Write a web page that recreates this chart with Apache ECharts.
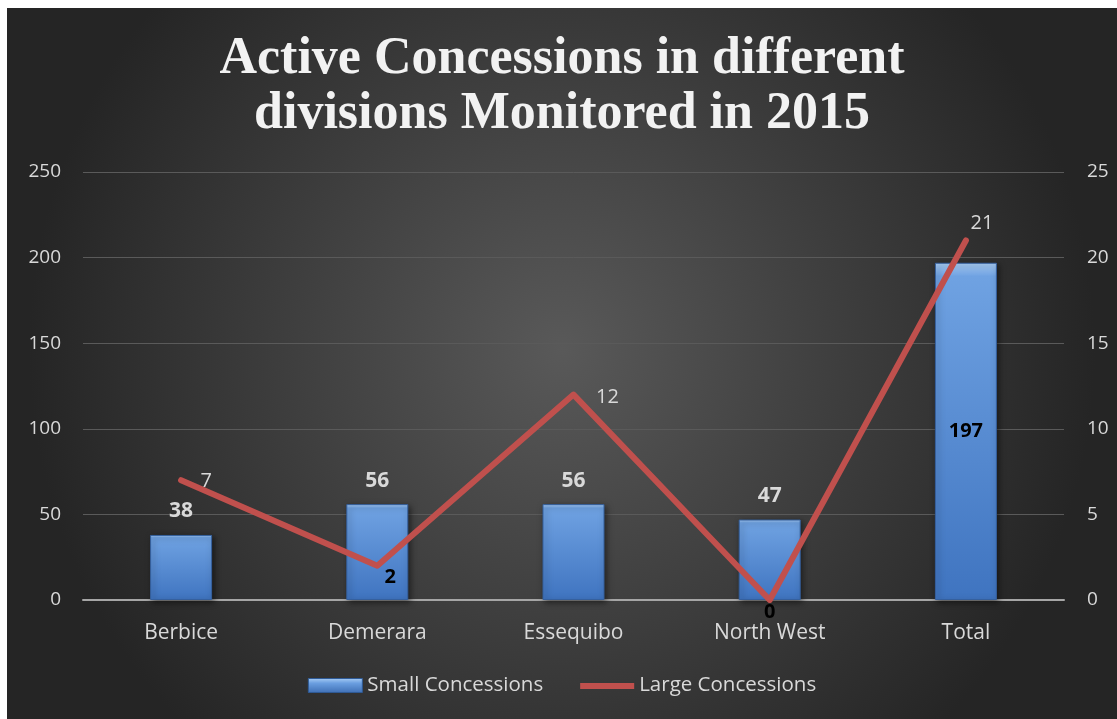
<!DOCTYPE html>
<html><head><meta charset="utf-8">
<script src="https://cdn.jsdelivr.net/npm/echarts@6/dist/echarts.min.js"></script>
<style>html,body{margin:0;padding:0;background:#fff;width:1117px;height:719px;overflow:hidden}
#c{position:absolute;left:7px;top:8px;width:1110px;height:711px}</style>
</head><body><div id="c"></div>
<script>
const categories = ['Berbice','Demerara','Essequibo','North West','Total'];
const smallConcessions = [38,56,56,47,197];
const largeConcessions = [7,2,12,0,21];
const leftTicks = [0,50,100,150,200,250];
const rightTicks = [0,5,10,15,20,25];

const chart = echarts.init(document.getElementById('c'));
const font = '"Open Sans", "Noto Sans", sans-serif';
const barData = smallConcessions.map((v,i)=> i===4 ? {
  value:v, label:{show:true, position:'inside', color:'#000', fontWeight:'bold', fontSize:20}
} : {value:v});
const lineLabelCfg = [
  {position:'right', color:'#d9d9d9', fontWeight:'normal', offset:[14,1]},
  {position:'bottom', color:'#000', fontWeight:'bold', offset:[13,-4]},
  {position:'right', color:'#d9d9d9', fontWeight:'normal', offset:[17,3]},
  {position:'bottom', color:'#000', fontWeight:'bold', offset:[0,-3]},
  {position:'top', color:'#d9d9d9', fontWeight:'normal', offset:[16,-2]}
];
const lineData = largeConcessions.map((v,i)=>({value:v, label:Object.assign({show:true, fontSize:20, fontFamily:font}, lineLabelCfg[i])}));

chart.setOption({
  backgroundColor:{type:'radial', x:0.5, y:0.48, r:0.75, colorStops:[{offset:0,color:'#595959'},{offset:1,color:'#252525'}]},
  title:{text:'Active Concessions in different\ndivisions Monitored in 2015', left:'center', top:19,
    textStyle:{fontFamily:'"Liberation Serif", "DejaVu Serif", serif', fontWeight:'bold', fontSize:52, color:'#f2f2f2', lineHeight:55}},
  legend:{bottom:18, left:'center', itemGap:37, textStyle:{color:'#d9d9d9', fontSize:20.5, fontFamily:font},
    data:[{name:'Small Concessions', icon:'rect', itemStyle:{color:{type:'linear',x:0,y:0,x2:0,y2:1,colorStops:[{offset:0,color:'#a9cdf5'},{offset:0.35,color:'#6a9ee0'},{offset:1,color:'#3f6fb5'}]}, borderColor:'#2f5a95', borderWidth:1}},
          {name:'Large Concessions', icon:'roundRect', itemStyle:{color:{type:'linear',x:0,y:0,x2:0,y2:1,colorStops:[{offset:0,color:'rgba(0,0,0,0)'},{offset:0.3,color:'rgba(0,0,0,0)'},{offset:0.3,color:'#c0504d'},{offset:0.75,color:'#c0504d'},{offset:0.75,color:'rgba(0,0,0,0)'},{offset:1,color:'rgba(0,0,0,0)'}]}}}],
    itemWidth:54, itemHeight:14},
  grid:{left:76, right:53, top:164, bottom:119},
  xAxis:{type:'category', data:categories,
    axisLine:{lineStyle:{color:'#a6a6a6', width:2}}, axisTick:{show:false},
    axisLabel:{color:'#d9d9d9', fontSize:21, fontFamily:font, margin:23}},
  yAxis:[
    {type:'value', min:0, max:250, interval:50, position:'left',
     axisLine:{show:false}, axisTick:{show:false},
     axisLabel:{color:'#d9d9d9', fontSize:19, fontFamily:font, margin:22, customValues:leftTicks},
     splitLine:{lineStyle:{color:'#5a5a5a', width:1}}},
    {type:'value', min:0, max:25, interval:5, position:'right',
     axisLine:{show:false}, axisTick:{show:false},
     axisLabel:{color:'#d9d9d9', fontSize:19, fontFamily:font, margin:23, customValues:rightTicks},
     splitLine:{show:false}}
  ],
  series:[
    {name:'Small Concessions', type:'bar', yAxisIndex:0, data:barData, barWidth:62, z:2,
     itemStyle:{color:{type:'linear',x:0,y:0,x2:0,y2:1,colorStops:[{offset:0,color:'#a9cdf5'},{offset:0.04,color:'#6fa2e2'},{offset:1,color:'#3f74c0'}]},
       borderColor:'#35609e', borderWidth:1, shadowColor:'rgba(0,0,0,0.5)', shadowBlur:6, shadowOffsetX:2, shadowOffsetY:2},
     label:{show:true, position:'top', color:'#d9d9d9', fontWeight:'bold', fontSize:21, fontFamily:font, distance:13}},
    {name:'Large Concessions', type:'line', yAxisIndex:1, data:lineData, z:3,
     symbol:'circle', symbolSize:1, showSymbol:true,
     lineStyle:{color:'#c0504d', width:6, cap:'round', join:'round'}, itemStyle:{color:'#c0504d'}}
  ]
});
</script></body></html>
